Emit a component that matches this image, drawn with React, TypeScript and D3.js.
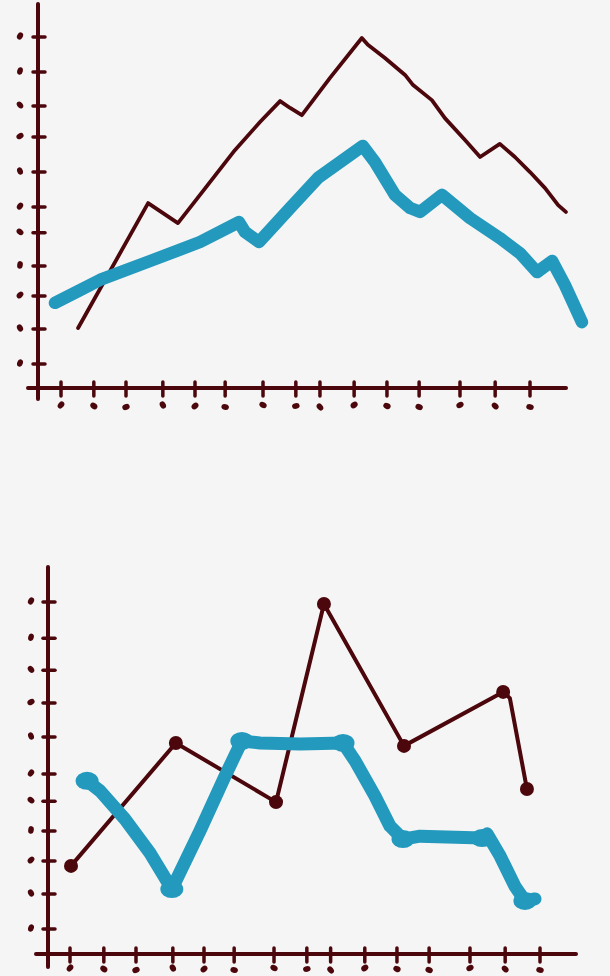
import React from "react";
import * as d3 from "d3";

// ---------- Top chart data (axis units) ----------
const topXTicks = [0.03, 1.01, 1.97, 3.07, 4.03, 4.93, 6.06, 7.04, 7.76, 8.78, 9.76, 10.72, 11.94, 12.99, 14.03];
const topYTicks = [1, 2.07, 3.08, 4.0, 5.01, 5.8, 6.87, 7.94, 8.89, 9.93, 11];

const topBrownX = [0.54, 2.63, 3.52, 4.18, 5.22, 5.97, 6.57, 6.87, 7.22, 8.06, 9.01, 9.19, 9.7, 10.3, 10.54, 11.1, 11.49, 12.09, 12.54, 13.13, 13.58, 14.03, 14.48, 14.87, 15.1];
const topBrownY = [2.1, 5.92, 5.31, 6.17, 7.54, 8.4, 9.04, 8.83, 8.61, 9.75, 10.97, 10.76, 10.36, 9.84, 9.53, 9.07, 8.52, 7.85, 7.33, 7.73, 7.33, 6.87, 6.38, 5.86, 5.65];

const topBlueX = [-0.15, 0.6, 1.19, 2.69, 4.18, 5.34, 5.52, 5.94, 6.87, 7.7, 9.04, 9.4, 10.0, 10.45, 10.75, 11.4, 12.24, 13.13, 13.73, 14.24, 14.69, 15.07, 15.58];
const topBlueY = [2.87, 3.26, 3.57, 4.15, 4.73, 5.34, 5.04, 4.73, 5.77, 6.69, 7.67, 7.18, 6.17, 5.77, 5.65, 6.17, 5.46, 4.85, 4.39, 3.81, 4.15, 3.42, 2.28];

// ---------- Bottom chart data (axis units) ----------
const botXTicks = [0.0, 1.01, 1.97, 3.07, 4.0, 4.9, 6.09, 7.07, 7.78, 8.8, 9.76, 10.72, 11.94, 12.99, 14.03];
const botYTicks = [1, 2.07, 3.08, 4.0, 4.91, 5.74, 6.87, 7.91, 8.91, 9.89, 11];

const botBrownX = [0.03, 3.16, 6.15, 7.58, 9.97, 12.93, 13.13, 13.64];
const botBrownY = [2.93, 6.69, 4.88, 10.94, 6.6, 8.25, 8.06, 5.28];
const botBrownMarked = [true, true, true, true, true, true, false, true];

const botBlueX = [0.51, 0.9, 1.64, 2.39, 3.04, 3.88, 4.63, 5.13, 5.67, 6.87, 8.15, 8.51, 9.1, 9.55, 9.94, 10.45, 12.3, 12.45, 12.84, 13.28, 13.58, 13.88];
const botBlueY = [5.53, 5.22, 4.36, 3.32, 2.22, 4.0, 5.68, 6.75, 6.69, 6.66, 6.69, 6.14, 5.07, 4.15, 3.75, 3.84, 3.78, 3.91, 3.23, 2.31, 1.86, 1.92];
const botBlueMarked = [true, false, false, false, true, false, false, true, false, false, true, false, false, false, true, false, true, false, false, false, true, false];

// hand-drawn label blob rotations
const blobRot = [20, -30, 45, 10, -50, 35, -20, 60, -40, 15, 30, -10, 50, -35, 25];

const BROWN = "#4b070c";
const BLUE = "#2399bd";

type ChartProps = {
  xRange: [number, number];
  yRange: [number, number];
  xTicks: number[];
  yTicks: number[];
  yAxisX: number;
  yAxisTop: number;
  yAxisBottom: number;
  xAxisY: number;
  xAxisLeft: number;
  xAxisRight: number;
  yLabelX: number;
  xLabelY: number;
  children: (x: d3.ScaleLinear<number, number>, y: d3.ScaleLinear<number, number>) => React.ReactNode;
};

function Chart(p: ChartProps) {
  const x = d3.scaleLinear().domain([0, 14]).range(p.xRange);
  const y = d3.scaleLinear().domain([1, 11]).range(p.yRange);
  return (
    <g>
      <line x1={p.yAxisX} x2={p.yAxisX} y1={p.yAxisTop} y2={p.yAxisBottom} stroke={BROWN} strokeWidth={4} strokeLinecap="round" />
      <line x1={p.xAxisLeft} x2={p.xAxisRight} y1={p.xAxisY} y2={p.xAxisY} stroke={BROWN} strokeWidth={4} strokeLinecap="round" />
      {p.yTicks.map((t, i) => (
        <g key={"y" + i}>
          <line x1={p.yAxisX - 5} x2={p.yAxisX + 7} y1={y(t)} y2={y(t)} stroke={BROWN} strokeWidth={3.5} strokeLinecap="round" />
          <ellipse cx={p.yLabelX} cy={y(t) - 1} rx={2.8} ry={3.8} fill={BROWN} transform={`rotate(${blobRot[i % blobRot.length]} ${p.yLabelX} ${y(t) - 1})`} />
        </g>
      ))}
      {p.xTicks.map((t, i) => (
        <g key={"x" + i}>
          <line x1={x(t)} x2={x(t)} y1={p.xAxisY - 6} y2={p.xAxisY + 8} stroke={BROWN} strokeWidth={3.5} strokeLinecap="round" />
          <ellipse cx={x(t)} cy={p.xLabelY + (i % 3)} rx={3.8} ry={2.9} fill={BROWN} transform={`rotate(${blobRot[(i + 4) % blobRot.length]} ${x(t)} ${p.xLabelY + (i % 3)})`} />
        </g>
      ))}
      {p.children(x, y)}
    </g>
  );
}

export default function App() {
  const lineGen = (x: d3.ScaleLinear<number, number>, y: d3.ScaleLinear<number, number>) =>
    d3.line<[number, number]>().x((d) => x(d[0])).y((d) => y(d[1]));

  const zip = (a: number[], b: number[]) => a.map((v, i) => [v, b[i]] as [number, number]);

  return (
    <svg width={610} height={976} style={{ position: "absolute", left: 0, top: 0 }}>
      <rect x={0} y={0} width={610} height={976} fill="#f5f5f5" />
      <Chart
        xRange={[60, 529]}
        yRange={[364, 37]}
        xTicks={topXTicks}
        yTicks={topYTicks}
        yAxisX={38}
        yAxisTop={4}
        yAxisBottom={399}
        xAxisY={388}
        xAxisLeft={28}
        xAxisRight={566}
        yLabelX={20}
        xLabelY={405}
      >
        {(x, y) => {
          const lg = lineGen(x, y);
          return (
            <g>
              <path d={lg(zip(topBlueX, topBlueY).map((d) => [d[0], d[1] - 0.08] as [number, number])) || ""} fill="none" stroke={BROWN} strokeWidth={3} strokeLinejoin="round" />
              <path d={lg(zip(topBrownX, topBrownY)) || ""} fill="none" stroke={BROWN} strokeWidth={3.8} strokeLinejoin="round" strokeLinecap="round" />
              <path d={lg(zip(topBlueX, topBlueY)) || ""} fill="none" stroke={BLUE} strokeWidth={12.5} strokeLinejoin="round" strokeLinecap="round" />
            </g>
          );
        }}
      </Chart>
      <Chart
        xRange={[70, 539]}
        yRange={[929, 602]}
        xTicks={botXTicks}
        yTicks={botYTicks}
        yAxisX={48}
        yAxisTop={567}
        yAxisBottom={967}
        xAxisY={954}
        xAxisLeft={36}
        xAxisRight={576}
        yLabelX={31}
        xLabelY={968}
      >
        {(x, y) => {
          const lg = lineGen(x, y);
          return (
            <g>
              <path d={lg(zip(botBrownX, botBrownY)) || ""} fill="none" stroke={BROWN} strokeWidth={4} strokeLinejoin="round" strokeLinecap="round" />
              {botBrownX.map((v, i) =>
                botBrownMarked[i] ? <circle key={"bm" + i} cx={x(v)} cy={y(botBrownY[i])} r={7} fill={BROWN} /> : null
              )}
              <path d={lg(zip(botBlueX, botBlueY)) || ""} fill="none" stroke={BLUE} strokeWidth={13} strokeLinejoin="round" strokeLinecap="round" />
              {botBlueX.map((v, i) =>
                botBlueMarked[i] ? <ellipse key={"um" + i} cx={x(v)} cy={y(botBlueY[i])} rx={11.5} ry={9} fill={BLUE} /> : null
              )}
            </g>
          );
        }}
      </Chart>
    </svg>
  );
}
